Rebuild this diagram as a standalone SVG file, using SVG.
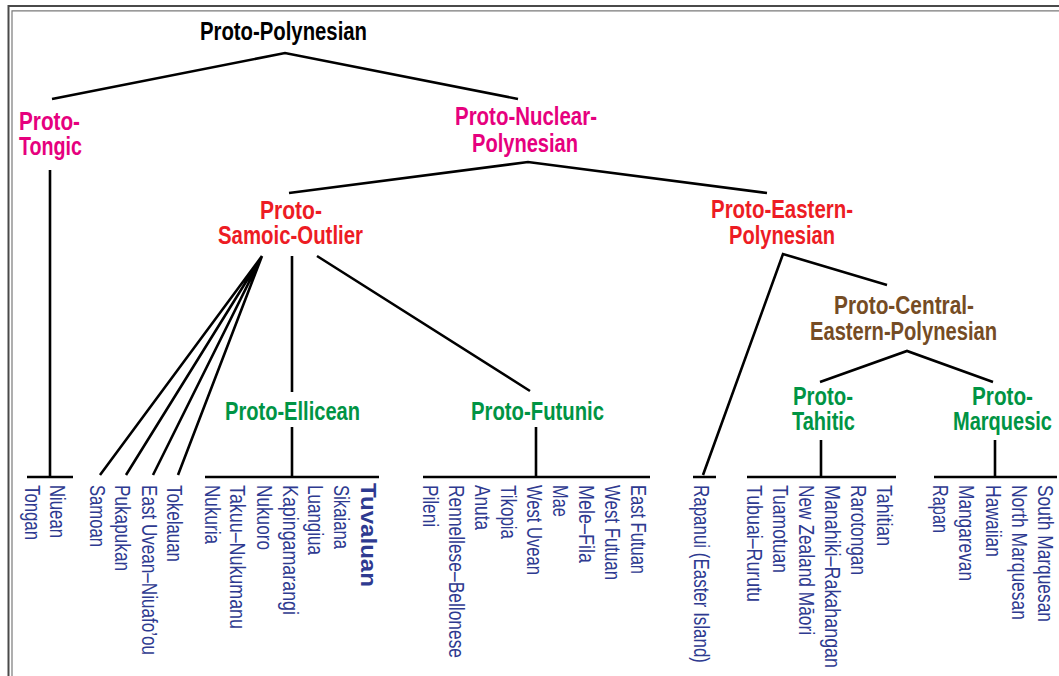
<svg xmlns="http://www.w3.org/2000/svg" width="1059" height="676" viewBox="0 0 1059 676">
  <style>
    .frame-outer { fill: none; stroke: #4a4a4a; stroke-width: 2; }
    .frame-inner { fill: none; stroke: #7a7a7a; stroke-width: 1.2; }
    .edge { fill: none; stroke: #000; stroke-width: 2.6; stroke-linecap: butt; }
    .head { font-family: "Liberation Sans", Arial, sans-serif; font-weight: bold; font-size: 26px; }
    .root { fill: #000; }
    .magenta { fill: #e6007e; }
    .red { fill: #ed1c24; }
    .brown { fill: #754c24; }
    .green { fill: #009444; }
    .leaf { font-family: "Liberation Sans", Arial, sans-serif; font-size: 21.5px; fill: #2e3a90; }
    .leaf-bold { font-weight: bold; }
  </style>

  <rect width="1059" height="676" fill="#fff"/>

  <!-- double frame, open to the right and bottom -->
  <path class="frame-outer" d="M8.5 676 V6 H1059"/>
  <path class="frame-inner" d="M12 676 V10.8 H1059"/>

  <!-- connectors -->
  <g id="connectors">
    <path class="edge" d="M52 99 L285 53 L518 99"/>
    <path class="edge" d="M50 170 V477 M27 477 H73"/>
    <path class="edge" d="M289 193 L528 162 L767 193"/>
    <path class="edge" d="M262 256 L100 475 M262 256 L126 475 M262 256 L153 475 M262 256 L178 475"/>
    <path class="edge" d="M292 256 V392 M292 427 V477 M205 477 H379"/>
    <path class="edge" d="M317 256 L530 391 M536 427 V477 M423 477 H650"/>
    <path class="edge" d="M703 475 L783 254 L887 285 M693 477 H716"/>
    <path class="edge" d="M820 382 L907 351 L993 382"/>
    <path class="edge" d="M821 440 V477 M747 477 H896"/>
    <path class="edge" d="M995 440 V477 M934 477 H1057"/>
  </g>

  <!-- proto-languages -->
  <g id="proto-polynesian">
    <text class="head root" x="200" y="40" textLength="167" lengthAdjust="spacingAndGlyphs">Proto-Polynesian</text>
  </g>
  <g id="proto-tongic">
    <text class="head magenta" x="19" y="130" textLength="61" lengthAdjust="spacingAndGlyphs">Proto-</text>
    <text class="head magenta" x="19" y="155" textLength="63" lengthAdjust="spacingAndGlyphs">Tongic</text>
  </g>
  <g id="proto-nuclear-polynesian">
    <text class="head magenta" x="455" y="125" textLength="142" lengthAdjust="spacingAndGlyphs">Proto-Nuclear-</text>
    <text class="head magenta" x="472" y="151.5" textLength="106" lengthAdjust="spacingAndGlyphs">Polynesian</text>
  </g>
  <g id="proto-samoic-outlier">
    <text class="head red" x="260" y="219" textLength="62" lengthAdjust="spacingAndGlyphs">Proto-</text>
    <text class="head red" x="218" y="243.5" textLength="145" lengthAdjust="spacingAndGlyphs">Samoic-Outlier</text>
  </g>
  <g id="proto-eastern-polynesian">
    <text class="head red" x="711" y="218" textLength="142" lengthAdjust="spacingAndGlyphs">Proto-Eastern-</text>
    <text class="head red" x="729" y="243.5" textLength="106" lengthAdjust="spacingAndGlyphs">Polynesian</text>
  </g>
  <g id="proto-central-eastern-polynesian">
    <text class="head brown" x="834" y="314" textLength="140" lengthAdjust="spacingAndGlyphs">Proto-Central-</text>
    <text class="head brown" x="810" y="340" textLength="187" lengthAdjust="spacingAndGlyphs">Eastern-Polynesian</text>
  </g>
  <g id="proto-ellicean">
    <text class="head green" x="225" y="420" textLength="135" lengthAdjust="spacingAndGlyphs">Proto-Ellicean</text>
  </g>
  <g id="proto-futunic">
    <text class="head green" x="471" y="420" textLength="133" lengthAdjust="spacingAndGlyphs">Proto-Futunic</text>
  </g>
  <g id="proto-tahitic">
    <text class="head green" x="793" y="405" textLength="60" lengthAdjust="spacingAndGlyphs">Proto-</text>
    <text class="head green" x="792" y="430" textLength="63" lengthAdjust="spacingAndGlyphs">Tahitic</text>
  </g>
  <g id="proto-marquesic">
    <text class="head green" x="972" y="405" textLength="61" lengthAdjust="spacingAndGlyphs">Proto-</text>
    <text class="head green" x="953" y="430" textLength="99" lengthAdjust="spacingAndGlyphs">Marquesic</text>
  </g>

  <!-- languages, set vertically -->
  <g id="tongan"><text class="leaf" transform="translate(25 485) rotate(90)" textLength="55" lengthAdjust="spacingAndGlyphs">Tongan</text></g>
  <g id="niuean"><text class="leaf" transform="translate(50 485) rotate(90)" textLength="53" lengthAdjust="spacingAndGlyphs">Niuean</text></g>
  <g id="samoan"><text class="leaf" transform="translate(90 485) rotate(90)" textLength="62" lengthAdjust="spacingAndGlyphs">Samoan</text></g>
  <g id="pukapukan"><text class="leaf" transform="translate(115 485) rotate(90)" textLength="86" lengthAdjust="spacingAndGlyphs">Pukapukan</text></g>
  <g id="east-uvean-niuafoou"><text class="leaf" transform="translate(141.7 485) rotate(90)" textLength="170" lengthAdjust="spacingAndGlyphs">East Uvean–Niuafo’ou</text></g>
  <g id="tokelauan"><text class="leaf" transform="translate(166.7 485) rotate(90)" textLength="77" lengthAdjust="spacingAndGlyphs">Tokelauan</text></g>
  <g id="nukuria"><text class="leaf" transform="translate(205 485) rotate(90)" textLength="59" lengthAdjust="spacingAndGlyphs">Nukuria</text></g>
  <g id="takuu-nukumanu"><text class="leaf" transform="translate(230 485) rotate(90)" textLength="144" lengthAdjust="spacingAndGlyphs">Takuu–Nukumanu</text></g>
  <g id="nukuoro"><text class="leaf" transform="translate(256.7 485) rotate(90)" textLength="65" lengthAdjust="spacingAndGlyphs">Nukuoro</text></g>
  <g id="kapingamarangi"><text class="leaf" transform="translate(283.3 485) rotate(90)" textLength="130" lengthAdjust="spacingAndGlyphs">Kapingamarangi</text></g>
  <g id="luangiua"><text class="leaf" transform="translate(308.3 485) rotate(90)" textLength="70" lengthAdjust="spacingAndGlyphs">Luangiua</text></g>
  <g id="sikaiana"><text class="leaf" transform="translate(334.3 485) rotate(90)" textLength="64" lengthAdjust="spacingAndGlyphs">Sikaiana</text></g>
  <g id="tuvaluan"><text class="leaf leaf-bold" transform="translate(360.5 483) rotate(90)" textLength="104" lengthAdjust="spacingAndGlyphs">Tuvaluan</text></g>
  <g id="pileni"><text class="leaf" transform="translate(423.3 485) rotate(90)" textLength="42" lengthAdjust="spacingAndGlyphs">Pileni</text></g>
  <g id="rennellese-bellonese"><text class="leaf" transform="translate(449.3 485) rotate(90)" textLength="173" lengthAdjust="spacingAndGlyphs">Rennellese–Bellonese</text></g>
  <g id="anuta"><text class="leaf" transform="translate(475 485) rotate(90)" textLength="45" lengthAdjust="spacingAndGlyphs">Anuta</text></g>
  <g id="tikopia"><text class="leaf" transform="translate(501 485) rotate(90)" textLength="54" lengthAdjust="spacingAndGlyphs">Tikopia</text></g>
  <g id="west-uvean"><text class="leaf" transform="translate(526.7 485) rotate(90)" textLength="90" lengthAdjust="spacingAndGlyphs">West Uvean</text></g>
  <g id="mae"><text class="leaf" transform="translate(552.7 485) rotate(90)" textLength="32" lengthAdjust="spacingAndGlyphs">Mae</text></g>
  <g id="mele-fila"><text class="leaf" transform="translate(579.3 485) rotate(90)" textLength="78" lengthAdjust="spacingAndGlyphs">Mele–Fila</text></g>
  <g id="west-futuan"><text class="leaf" transform="translate(605 485) rotate(90)" textLength="95" lengthAdjust="spacingAndGlyphs">West Futuan</text></g>
  <g id="east-futuan"><text class="leaf" transform="translate(631 485) rotate(90)" textLength="89" lengthAdjust="spacingAndGlyphs">East Futuan</text></g>
  <g id="rapanui"><text class="leaf" transform="translate(694 485) rotate(90)" textLength="178" lengthAdjust="spacingAndGlyphs">Rapanui (Easter Island)</text></g>
  <g id="tubuai-rurutu"><text class="leaf" transform="translate(746.7 485) rotate(90)" textLength="117" lengthAdjust="spacingAndGlyphs">Tubuai–Rurutu</text></g>
  <g id="tuamotuan"><text class="leaf" transform="translate(772.7 485) rotate(90)" textLength="88" lengthAdjust="spacingAndGlyphs">Tuamotuan</text></g>
  <g id="new-zealand-maori"><text class="leaf" transform="translate(799.3 485) rotate(90)" textLength="150" lengthAdjust="spacingAndGlyphs">New Zealand Māori</text></g>
  <g id="manahiki-rakahangan"><text class="leaf" transform="translate(825 485) rotate(90)" textLength="183" lengthAdjust="spacingAndGlyphs">Manahiki–Rakahangan</text></g>
  <g id="rarotongan"><text class="leaf" transform="translate(850.7 485) rotate(90)" textLength="90" lengthAdjust="spacingAndGlyphs">Rarotongan</text></g>
  <g id="tahitian"><text class="leaf" transform="translate(876.7 485) rotate(90)" textLength="61" lengthAdjust="spacingAndGlyphs">Tahitian</text></g>
  <g id="rapan"><text class="leaf" transform="translate(933.3 485) rotate(90)" textLength="48" lengthAdjust="spacingAndGlyphs">Rapan</text></g>
  <g id="mangarevan"><text class="leaf" transform="translate(959.3 485) rotate(90)" textLength="96" lengthAdjust="spacingAndGlyphs">Mangarevan</text></g>
  <g id="hawaiian"><text class="leaf" transform="translate(986 485) rotate(90)" textLength="72" lengthAdjust="spacingAndGlyphs">Hawaiian</text></g>
  <g id="north-marquesan"><text class="leaf" transform="translate(1011.7 485) rotate(90)" textLength="135" lengthAdjust="spacingAndGlyphs">North Marquesan</text></g>
  <g id="south-marquesan"><text class="leaf" transform="translate(1037.7 485) rotate(90)" textLength="137" lengthAdjust="spacingAndGlyphs">South Marquesan</text></g>
</svg>
